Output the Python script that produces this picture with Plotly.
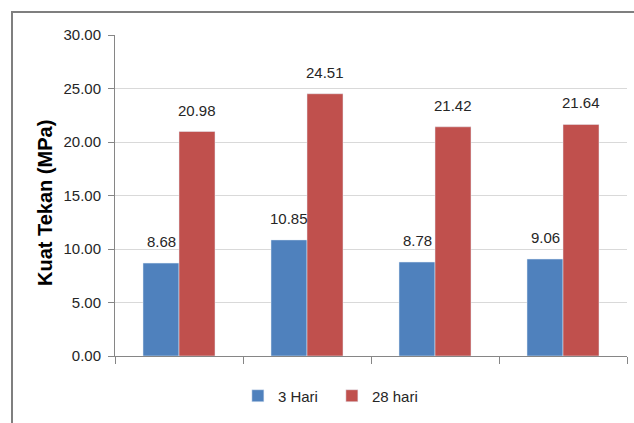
import plotly.graph_objects as go

categories = ["Variasi 1", "Variasi 2", "Variasi 3", "Variasi 4"]
hari3 = [8.68, 10.85, 8.78, 9.06]
hari28 = [20.98, 24.51, 21.42, 21.64]
yticks = [0, 5, 10, 15, 20, 25, 30]
y_title = "Kuat Tekan (MPa)"

FONT = "Liberation Sans"
TXT = "#262626"
AX = "#868686"

fig = go.Figure()
fig.add_trace(go.Bar(x=categories, y=hari3, name="3 Hari", marker_color="#4F81BD"))
fig.add_trace(go.Bar(x=categories, y=hari28, name="28 hari", marker_color="#C0504D"))

ann = []
for series, shift in ((hari3, -18), (hari28, 18)):
    for c, v in zip(categories, series):
        ann.append(dict(x=c, y=v, text=f"{v:.2f}", showarrow=False, xshift=shift,
                        yanchor="bottom", yshift=11,
                        font=dict(family=FONT, size=15, color=TXT)))
ann.append(dict(xref="paper", yref="paper", x=(45 - 115) / 512, y=(356 - 203) / 321,
                text=f"<b>{y_title}</b>", textangle=-90, showarrow=False,
                xanchor="center", yanchor="middle",
                font=dict(family=FONT, size=20, color="black")))

fig.update_layout(
    width=634, height=423,
    margin=dict(l=115, r=7, t=35, b=67),
    paper_bgcolor="white", plot_bgcolor="white",
    barmode="group", bargap=0.4375, bargroupgap=0,
    font=dict(family=FONT, size=15, color=TXT),
    annotations=ann,
    showlegend=True,
    legend=dict(orientation="h", x=0.240, xanchor="left", y=-0.1246, yanchor="middle",
                entrywidth=49, font=dict(family=FONT, size=15, color=TXT),
                bgcolor="rgba(0,0,0,0)"),
    shapes=[dict(type="rect", xref="paper", yref="paper",
                 x0=(12 - 115) / 512, x1=1.2, y0=-0.5, y1=1 + (35 - 12) / 321,
                 line=dict(color="#7f7f7f", width=2), layer="below")],
)
fig.update_xaxes(type="category", showticklabels=False, tickson="boundaries", ticks="outside",
                 ticklen=7, tickcolor=AX, showline=True, linecolor=AX, linewidth=1,
                 showgrid=False)
fig.update_yaxes(range=[0, 30], tickvals=yticks, ticktext=[f"{t:.2f}" for t in yticks],
                 ticks="outside", ticklen=6, tickcolor=AX, ticklabelstandoff=4,
                 showline=True, linecolor=AX, linewidth=1,
                 showgrid=True, gridcolor="#d9d9d9", gridwidth=1, zeroline=False)

fig.write_html("out.html")
